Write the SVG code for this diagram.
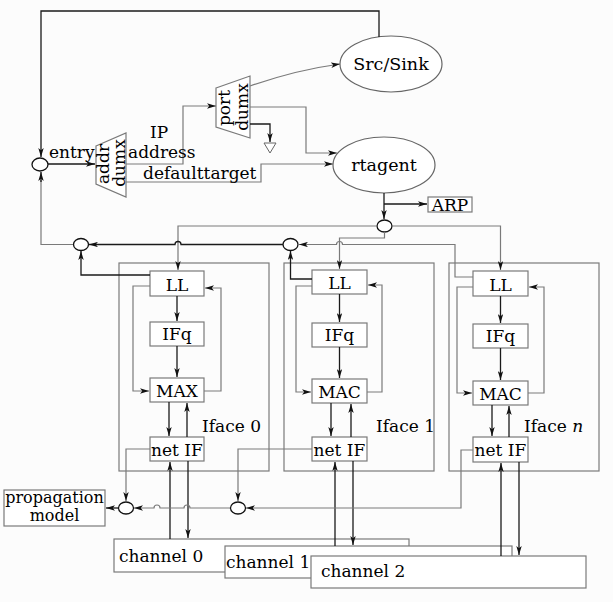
<svg xmlns="http://www.w3.org/2000/svg" width="613" height="602" viewBox="0 0 613 602">
<style>
text{font-family:"DejaVu Serif","Liberation Serif",serif;font-size:17px;fill:#000}
.c{text-anchor:middle}
.big{font-size:17.5px}
.sm{font-size:16px}
.box{fill:#fff;stroke:#7a7a7a;stroke-width:1.2}
.outer{fill:none;stroke:#7a7a7a;stroke-width:1.2}
.ell{fill:#fff;stroke:#666;stroke-width:1.2}
.cir{fill:#fff;stroke:#111;stroke-width:1.3}
.k{fill:none;stroke:#1a1a1a;stroke-width:1.3;marker-end:url(#ah)}
.g{fill:none;stroke:#7a7a7a;stroke-width:1.2;marker-end:url(#ah)}
.gn{fill:none;stroke:#7a7a7a;stroke-width:1.2}
</style>
<defs>
<marker id="ah" viewBox="0 0 10 6" refX="10" refY="3" markerWidth="9" markerHeight="5.4" orient="auto" markerUnits="userSpaceOnUse"><path d="M0,0 L10,3 L0,6 L2.5,3 z" fill="#111"/></marker>
</defs>
<rect width="613" height="602" fill="#fcfcfc"/>

<g id="src-sink"><ellipse class="ell" cx="391" cy="64" rx="51" ry="28"/><text class="c big" x="391" y="70">Src/Sink</text></g>
<g id="rtagent"><ellipse class="ell" cx="384" cy="165" rx="51" ry="28"/><text class="c big" x="384" y="171">rtagent</text></g>
<g id="addr-dumx"><polygon class="box" points="96,146 126,133 126,197 96,184"/><text class="c" transform="translate(109,164) rotate(-90)">addr</text><text class="c" transform="translate(124.5,163) rotate(-90)">dumx</text></g>
<g id="port-dumx"><polygon class="box" points="216,88 250,76 250,138 216,127"/><text class="c" transform="translate(229.5,108) rotate(-90)">port</text><text class="c" transform="translate(247.5,107) rotate(-90)">dumx</text></g>
<g id="sink-triangle"><polygon points="264,143 276,143 270,153" fill="#fff" stroke="#666" stroke-width="1"/></g>
<g id="arp"><rect class="box" x="428" y="197" width="44" height="15"/><text class="c" x="450" y="211">ARP</text></g>
<g id="entry-circle"><ellipse class="cir" cx="40" cy="164.5" rx="8" ry="6.5"/></g>
<g id="merge-a"><ellipse class="cir" cx="81" cy="244.5" rx="7.5" ry="6"/></g>
<g id="merge-b"><ellipse class="cir" cx="290.5" cy="244.5" rx="7.5" ry="6"/></g>
<g id="split-c"><ellipse class="cir" cx="384.5" cy="226" rx="7.5" ry="6"/></g>
<g id="merge-d"><ellipse class="cir" cx="126" cy="508" rx="7.5" ry="6"/></g>
<g id="merge-e"><ellipse class="cir" cx="238" cy="508" rx="7.5" ry="6"/></g>

<g id="iface0">
<rect class="outer" x="119" y="263" width="150" height="208"/>
<rect class="box" x="150" y="271" width="54" height="25"/><text class="c" x="177" y="291">LL</text>
<rect class="box" x="150" y="322" width="54" height="24"/><text class="c" x="177" y="340">IFq</text>
<rect class="box" x="150" y="378" width="54" height="24"/><text class="c" x="177" y="397">MAX</text>
<rect class="box" x="150" y="437" width="54" height="24"/><text class="c" x="177" y="456">net IF</text>
<text x="202" y="432">Iface 0</text>
</g>
<g id="iface1">
<rect class="outer" x="284" y="263" width="150" height="208"/>
<rect class="box" x="312" y="270" width="55" height="24"/><text class="c" x="339.5" y="289">LL</text>
<rect class="box" x="312" y="323" width="55" height="24"/><text class="c" x="339.5" y="341">IFq</text>
<rect class="box" x="312" y="379" width="55" height="24"/><text class="c" x="339.5" y="398">MAC</text>
<rect class="box" x="312" y="437" width="55" height="24"/><text class="c" x="339.5" y="456">net IF</text>
<text x="376" y="432">Iface 1</text>
</g>
<g id="ifacen">
<rect class="outer" x="449" y="263" width="150" height="208"/>
<rect class="box" x="473" y="271" width="55" height="25"/><text class="c" x="500.5" y="291">LL</text>
<rect class="box" x="473" y="324" width="55" height="24"/><text class="c" x="500.5" y="342">IFq</text>
<rect class="box" x="473" y="381" width="55" height="24"/><text class="c" x="500.5" y="400">MAC</text>
<rect class="box" x="473" y="437" width="55" height="25"/><text class="c" x="500.5" y="456">net IF</text>
<text x="524" y="432">Iface <tspan font-style="italic">n</tspan></text>
</g>
<g id="propagation"><rect class="box" x="4" y="490" width="101" height="36"/><text class="c sm" x="54.5" y="503">propagation</text><text class="c sm" x="54.5" y="521">model</text></g>
<g id="channel0"><rect class="box" x="114" y="539" width="295" height="33"/><text x="119" y="562">channel 0</text></g>
<g id="channel1"><rect class="box" x="225" y="546" width="287" height="32"/><text x="226" y="568">channel 1</text></g>
<g id="channel2"><rect class="box" x="311" y="556" width="275" height="32"/><text x="321" y="577">channel 2</text></g>

<g id="connectors">
<path class="k" d="M379,37 V11 H41 V157"/>
<path class="k" d="M48,164 H95"/>
<path class="g" d="M126,164 H183 V106 H216"/>
<path class="g" d="M126,182 H261 V164 H333"/>
<path class="g" d="M250,86 Q296,70 340,64"/>
<path class="g" d="M250,107 H306 V153 H337"/>
<path class="k" d="M250,124 H270 V142"/>
<path class="k" d="M384,193 V219"/>
<path class="k" d="M384,204 H427"/>
<path class="g" d="M377,226 H178 V270"/>
<path class="g" d="M392,226 H500.5 V270"/>
<path class="g" d="M384.5,232 V238 H339.5 V269"/>
<path class="g" d="M473,277 H455 V244.5 H342.5 A3,3 0 0 0 336.5,244.5 H299"/>
<path class="k" d="M283,244.5 H181 A3,3 0 0 0 175,244.5 H89"/>
<path class="gn" d="M73,244.5 H41 V180"/>
<path class="k" d="M41,182 V172"/>
<path class="k" d="M150,275 H81 V251"/>
<path class="k" d="M312,279 H290.5 V251"/>

<path class="k" d="M177,296 V321"/>
<path class="k" d="M177,346 V377"/>
<path class="g" d="M150,286 H133 V391 H149"/>
<path class="g" d="M204,391 H221 V288 H205"/>
<path class="k" d="M169,402 V436"/>
<path class="k" d="M187,437 V403"/>
<path class="g" d="M150,449 H126 V501"/>
<path class="k" d="M170,539 V462"/>
<path class="k" d="M188,461 V538"/>

<path class="k" d="M339.5,294 V322"/>
<path class="k" d="M339.5,347 V378"/>
<path class="g" d="M312,286 H296 V392 H311"/>
<path class="g" d="M367,392 H382 V285 H368"/>
<path class="k" d="M331,403 V436"/>
<path class="k" d="M351,437 V404"/>
<path class="g" d="M312,449 H238 V501"/>
<path class="k" d="M335,546 V462"/>
<path class="k" d="M353,461 V545"/>

<path class="k" d="M500.5,296 V323"/>
<path class="k" d="M500.5,348 V380"/>
<path class="g" d="M473,287 H457 V393 H472"/>
<path class="g" d="M528,393 H544 V287 H529"/>
<path class="k" d="M492,405 V436"/>
<path class="k" d="M509,437 V406"/>
<path class="g" d="M473,450 H461 V508 H246"/>
<path class="k" d="M501,556 V463"/>
<path class="k" d="M519,462 V555"/>

<path class="g" d="M230,508 H190 A3,3 0 0 0 184,508 H160 A3,3 0 0 0 154,508 H134"/>
<path class="k" d="M118,508 H106"/>
</g>
<g id="edge-labels">
<text x="49" y="158">entry</text>
<text x="150" y="138">IP</text>
<text x="128" y="158">address</text>
<text x="143" y="179">defaulttarget</text>
</g>
</svg>
